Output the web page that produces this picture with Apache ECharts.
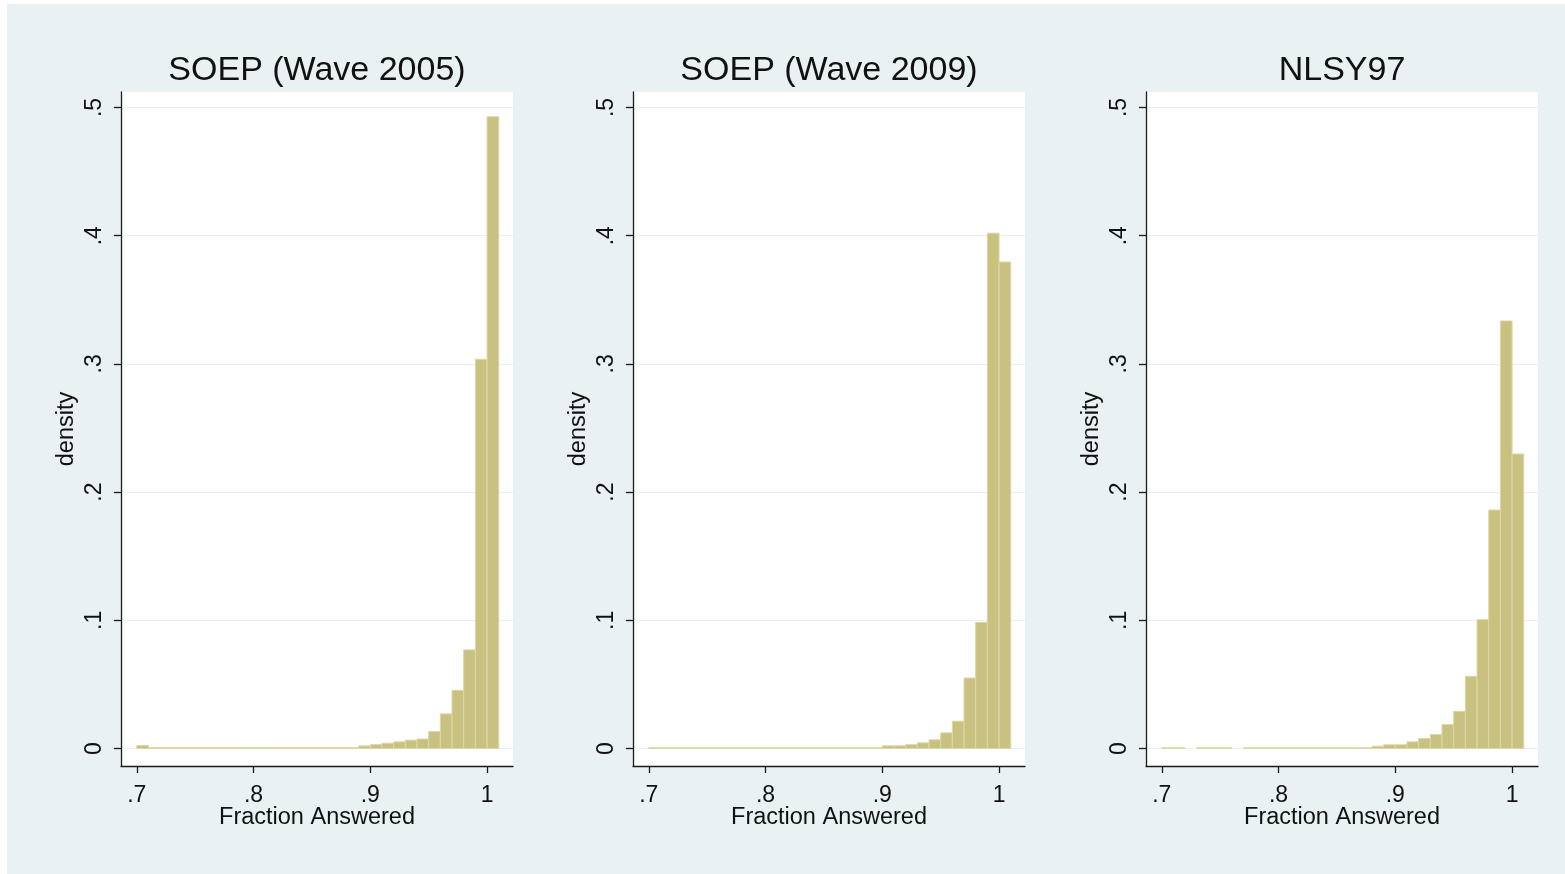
<!DOCTYPE html>
<html><head><meta charset="utf-8">
<script src="https://cdn.jsdelivr.net/npm/echarts@6/dist/echarts.min.js"></script>
<style>html,body{margin:0;padding:0;background:#fff}#c{width:1565px;height:874px}</style>
</head><body><div id="c"></div>
<script>
const panelTitles = ['SOEP (Wave 2005)', 'SOEP (Wave 2009)', 'NLSY97'];
const xAxisTitle = 'Fraction Answered';
const yAxisTitle = 'density';
const binStarts = [0.70,0.71,0.72,0.73,0.74,0.75,0.76,0.77,0.78,0.79,
                   0.80,0.81,0.82,0.83,0.84,0.85,0.86,0.87,0.88,0.89,
                   0.90,0.91,0.92,0.93,0.94,0.95,0.96,0.97,0.98,0.99,1.00];
const binWidth = 0.01;
const soep2005 = [0.0023,0.0007,0.0007,0.0007,0.0007,0.0007,0.0007,0.0007,0.0007,0.0007,
                  0.0007,0.0007,0.0007,0.0007,0.0007,0.0007,0.0007,0.0007,0.0007,0.0020,
                  0.0030,0.0041,0.0052,0.0065,0.0074,0.0132,0.0270,0.0454,0.0769,0.3036,0.4928];
const soep2009 = [0.0006,0.0006,0.0006,0.0006,0.0006,0.0006,0.0006,0.0006,0.0006,0.0006,
                  0.0006,0.0006,0.0006,0.0006,0.0006,0.0006,0.0006,0.0006,0.0006,0.0006,
                  0.0021,0.0021,0.0030,0.0044,0.0068,0.0122,0.0213,0.0550,0.0984,0.4020,0.3795];
const nlsy97   = [0.0006,0.0006,0,0.0006,0.0006,0.0006,0,0.0006,0.0006,0.0006,
                  0.0006,0.0006,0.0006,0.0006,0.0006,0.0006,0.0006,0.0006,0.0018,0.0029,
                  0.0029,0.0052,0.0078,0.0109,0.0188,0.0290,0.0563,0.1005,0.1860,0.3335,0.2297];
const seriesValues = [soep2005, soep2009, nlsy97];
const xTicks = [0.7, 0.8, 0.9, 1.0];
const yTicks = [0, 0.1, 0.2, 0.3, 0.4, 0.5];

const FONT = '"Liberation Sans", Arial, sans-serif';
const gridLefts = [121, 633, 1146];
const gridWidth = 392, gridTop = 92, gridHeight = 674;
const fmt = v => { const n = Number(v.toFixed(2)); if (n === 0) return '0'; if (n >= 1) return String(n); return String(n).replace(/^0/, ''); };
const axisColor = '#1a1a1a';

const chart = echarts.init(document.getElementById('c'), null, {renderer: 'canvas'});
const grids = [], xAxes = [], yAxes = [], series = [], titles = [];
for (let i = 0; i < 3; i++) {
  grids.push({left: gridLefts[i], top: gridTop, width: gridWidth, height: gridHeight,
    show: true, backgroundColor: '#ffffff', borderWidth: 0});
  titles.push({text: panelTitles[i], left: gridLefts[i] + gridWidth / 2 - 5, top: 49, textAlign: 'center',
    textStyle: {fontFamily: FONT, fontSize: 34, fontWeight: 'normal', color: '#111'}});
  xAxes.push({type: 'value', gridIndex: i, min: 0.6865, max: 1.0222,
    axisLine: {show: true, onZero: false, lineStyle: {color: axisColor, width: 1.3}},
    axisTick: {show: true, length: 7, customValues: xTicks, lineStyle: {color: axisColor, width: 1.3}},
    axisLabel: {customValues: xTicks, formatter: fmt, fontFamily: FONT, fontSize: 23, color: '#111', margin: 18},
    splitLine: {show: false},
    name: xAxisTitle, nameLocation: 'middle', nameGap: 40, nameMoveOverlap: false,
    nameTextStyle: {fontFamily: FONT, fontSize: 23.5, color: '#111'}});
  yAxes.push({type: 'value', gridIndex: i, min: -0.01365, max: 0.5121,
    axisLine: {show: true, onZero: false, lineStyle: {color: axisColor, width: 1.3}},
    axisTick: {show: true, length: 7, customValues: yTicks, lineStyle: {color: axisColor, width: 1.3}},
    axisLabel: {customValues: yTicks, formatter: fmt, rotate: 90, fontFamily: FONT, fontSize: 23, color: '#111', margin: 15},
    splitLine: {show: true, lineStyle: {color: '#e9f1f2', width: 1}},
    name: yAxisTitle, nameLocation: 'middle', nameGap: 42, nameRotate: 90, nameMoveOverlap: false,
    nameTextStyle: {fontFamily: FONT, fontSize: 23.5, color: '#111'}});
  const vals = seriesValues[i];
  series.push({type: 'custom', xAxisIndex: i, yAxisIndex: i,
    data: binStarts.map((s, k) => [s, s + binWidth, vals[k]]),
    encode: {x: [0, 1], y: 2},
    renderItem: (params, api) => {
      const x0 = api.value(0), x1 = api.value(1), h = api.value(2);
      if (!(h > 0)) return null;
      const p0 = api.coord([x0, h]), p1 = api.coord([x1, 0]);
      return {type: 'rect', shape: {x: p0[0], y: p0[1], width: p1[0] - p0[0], height: p1[1] - p0[1]},
        style: {fill: '#c9c17f', stroke: '#dcd7a8', lineWidth: 1}};
    }});
}
chart.setOption({
  backgroundColor: '#e9f1f2',
  animation: false,
  graphic: [
    {type: 'rect', left: 0, top: 0, shape: {width: 1565, height: 4}, style: {fill: '#ffffff'}},
    {type: 'rect', left: 0, top: 0, shape: {width: 7, height: 874}, style: {fill: '#ffffff'}}
  ],
  title: titles, grid: grids, xAxis: xAxes, yAxis: yAxes, series: series
});
</script></body></html>
